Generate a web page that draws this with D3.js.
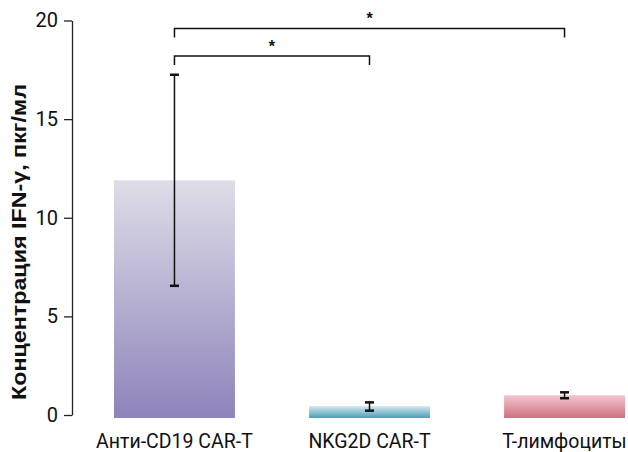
<!DOCTYPE html>
<html>
<head>
<meta charset="utf-8">
<script src="https://d3js.org/d3.v7.min.js"></script>
<style>
  body { margin: 0; background: #fff; }
</style>
</head>
<body>
<div id="chart"></div>
<script>
// data
var groups = ["Анти-CD19 CAR-T", "NKG2D CAR-T", "T-лимфоциты"];
var means = [11.9, 0.45, 1.0];
var errLow = [6.55, 0.22, 0.85];
var errHigh = [17.25, 0.64, 1.15];
var yTicks = [0, 5, 10, 15, 20];
// significance brackets: [from group, to group, level]
var brackets = [[0, 2, 19.6], [0, 1, 18.2]];
var sigLabel = "*";

var width = 628, height = 452;
var svg = d3.select("#chart").append("svg")
    .attr("width", width)
    .attr("height", height);

var grads = [
  ["#dedde7", "#8e83bb"],
  ["#d4e7ef", "#4a9fb6"],
  ["#f4c4d0", "#cf717e"]
];
var defs = svg.append("defs");
grads.forEach(function(g, i) {
  var lg = defs.append("linearGradient")
      .attr("id", "g" + i)
      .attr("x1", 0).attr("y1", 0).attr("x2", 0).attr("y2", 1);
  lg.append("stop").attr("offset", "0%").attr("stop-color", g[0]);
  lg.append("stop").attr("offset", "100%").attr("stop-color", g[1]);
});

var x = d3.scaleBand()
    .domain(groups)
    .range([114, 625])
    .paddingInner(0.38)
    .paddingOuter(0);

var y = d3.scaleLinear()
    .domain([0, 20])
    .range([415, 20.5]);

// y axis
var yAxis = svg.append("g")
    .attr("transform", "translate(72,0)")
    .call(d3.axisLeft(y).tickValues(yTicks).tickSize(8).tickSizeOuter(0).tickPadding(6));
yAxis.select(".domain").attr("stroke", "#222").attr("stroke-width", 1.3);
yAxis.selectAll(".tick line").attr("stroke", "#222").attr("stroke-width", 1.3);
yAxis.selectAll(".tick text")
    .attr("font-family", "Roboto, sans-serif")
    .attr("font-size", 20)
    .attr("fill", "#111");

svg.append("text")
    .attr("transform", "translate(26,242) rotate(-90)")
    .attr("text-anchor", "middle")
    .attr("font-family", "Liberation Sans, Arial, sans-serif")
    .attr("font-weight", "bold")
    .attr("font-size", 19.5)
    .attr("textLength", 316)
    .attr("lengthAdjust", "spacingAndGlyphs")
    .attr("fill", "#111")
    .text("Концентрация IFN-γ, пкг/мл");

// bars
var bottom = 3;
svg.selectAll("rect.bar")
    .data(groups)
    .enter().append("rect")
    .attr("class", "bar")
    .attr("x", function(d) { return x(d); })
    .attr("width", x.bandwidth())
    .attr("y", function(d, i) { return y(means[i]); })
    .attr("height", function(d, i) { return y(0) - y(means[i]) + bottom; })
    .attr("fill", function(d, i) { return "url(#g" + i + ")"; });

// error bars
var eb = svg.selectAll("g.err")
    .data(groups)
    .enter().append("g")
    .attr("class", "err")
    .attr("transform", function(d) { return "translate(" + (x(d) + x.bandwidth() / 2) + ",0)"; });
eb.append("line")
    .attr("y1", function(d, i) { return y(errLow[i]); })
    .attr("y2", function(d, i) { return y(errHigh[i]); })
    .attr("stroke", "#111").attr("stroke-width", 1.5);
eb.selectAll("line.cap")
    .data(function(d, i) { return [errLow[i], errHigh[i]]; })
    .enter().append("line")
    .attr("class", "cap")
    .attr("x1", -4.5).attr("x2", 4.5)
    .attr("y1", function(v) { return y(v); })
    .attr("y2", function(v) { return y(v); })
    .attr("stroke", "#111").attr("stroke-width", 2.5);

// x labels
svg.selectAll("text.xl")
    .data(groups)
    .enter().append("text")
    .attr("class", "xl")
    .attr("x", function(d) { return x(d) + x.bandwidth() / 2; })
    .attr("y", 448)
    .attr("text-anchor", "middle")
    .attr("font-family", "Roboto, sans-serif")
    .attr("font-size", 19.5)
    .attr("fill", "#111")
    .text(function(d) { return d; });

// significance brackets
var legDrop = 9;
brackets.forEach(function(b) {
  var x1 = x(groups[b[0]]) + x.bandwidth() / 2;
  var x2 = x(groups[b[1]]) + x.bandwidth() / 2;
  var yy = y(b[2]);
  svg.append("path")
      .attr("d", "M" + x1 + "," + (yy + legDrop) + "V" + yy + "H" + x2 + "V" + (yy + legDrop))
      .attr("fill", "none")
      .attr("stroke", "#111")
      .attr("stroke-width", 1.5);
  svg.append("text")
      .attr("x", (x1 + x2) / 2)
      .attr("y", yy - 4)
      .attr("text-anchor", "middle")
      .attr("font-family", "Liberation Sans, Arial, sans-serif")
      .attr("font-weight", "bold")
      .attr("font-size", 16)
      .attr("fill", "#111")
      .text(sigLabel);
});
</script>
</body>
</html>
